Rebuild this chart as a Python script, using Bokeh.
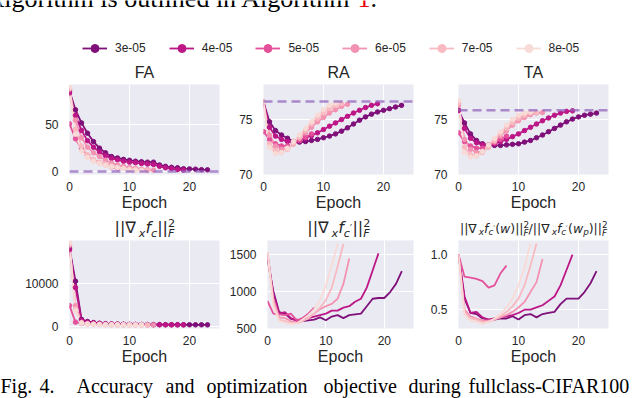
from bokeh.plotting import figure
from bokeh.models import Range1d, FixedTicker, Span, Label, Legend, LegendItem, PrintfTickFormatter, ColumnDataSource
from bokeh.layouts import column, row
from bokeh.embed import file_html
from bokeh.resources import INLINE
from bokeh.core.properties import value

# ---------------- data ----------------
learning_rates = ["3e-05", "4e-05", "5e-05", "6e-05", "7e-05", "8e-05"]
x_ticks = [0, 10, 20]

fa = [
    [86, 66, 52, 41, 32, 25, 20, 16, 14.5, 13, 12, 11, 10.5, 10, 10, 7, 5.5, 4.5, 4, 3, 2.8, 2.5, 2, 1.8],
    [84, 60, 44, 33, 26, 21, 17, 14, 12.5, 11, 10, 9.5, 8.5, 8, 7.5, 5.5, 4, 3, 2, 1.5],
    [51, 35, 24, 17, 12, 9, 7, 5, 3.5],
    [88, 55, 36, 26, 20, 16, 12, 9, 7, 5.5, 4.5, 3.5, 2.5, 2, 1.5],
    [89, 45, 27, 18, 13, 10, 8, 6, 4.5, 3.5, 2.5, 2, 1.5, 1],
    [90, 40, 22, 15, 11, 8.5, 6.5, 5, 4, 3, 2, 1.5, 1],
]
ra = [
    [76.6, 74.8, 74.0, 73.6, 73.3, 73.0, 72.95, 73.0, 73.1, 73.2, 73.35, 73.5, 73.7, 73.95, 74.25, 74.6, 74.95, 75.25, 75.5, 75.7, 75.85, 76.0, 76.15, 76.3],
    [76.6, 74.3, 73.5, 73.2, 73.0, 72.95, 73.1, 73.3, 73.55, 73.8, 74.1, 74.4, 74.7, 75.0, 75.3, 75.6, 75.85, 76.1, 76.3, 76.45],
    [73.9, 73.2, 72.8, 72.6, 72.6, 72.8, 73.1, 73.4, 73.7],
    [76.6, 73.6, 72.6, 72.3, 72.4, 72.8, 73.3, 73.8, 74.3, 74.8, 75.2, 75.6, 75.9, 76.2, 76.4],
    [76.6, 72.8, 72.2, 72.0, 72.3, 72.8, 73.4, 74.0, 74.6, 75.1, 75.6, 76.0, 76.3, 76.45],
    [76.6, 72.5, 71.9, 72.0, 72.4, 73.0, 73.6, 74.2, 74.8, 75.4, 75.9, 76.3, 76.5],
]
ta = [
    [75.85, 74.7, 73.7, 73.1, 72.8, 72.7, 72.65, 72.65, 72.7, 72.75, 72.8, 72.95, 73.1, 73.35, 73.6, 73.9, 74.2, 74.5, 74.8, 75.05, 75.25, 75.4, 75.5, 75.6],
    [75.85, 74.2, 73.3, 72.9, 72.7, 72.7, 72.8, 73.0, 73.2, 73.45, 73.7, 74.0, 74.3, 74.6, 74.9, 75.15, 75.4, 75.6, 75.75, 75.8],
    [73.8, 73.0, 72.6, 72.4, 72.4, 72.6, 72.9, 73.2, 73.5],
    [76.3, 73.2, 72.3, 72.0, 72.1, 72.5, 73.0, 73.5, 74.0, 74.5, 74.9, 75.2, 75.45, 75.6, 75.65],
    [76.5, 72.5, 71.8, 71.7, 72.0, 72.5, 73.1, 73.7, 74.2, 74.7, 75.1, 75.4, 75.6, 75.65],
    [76.75, 72.0, 71.6, 71.7, 72.1, 72.7, 73.3, 73.9, 74.5, 75.0, 75.4, 75.6, 75.7],
]
grad_c = [
    [18200, 10500, 1600, 1100, 850, 700, 600, 540, 500, 460, 430, 410, 400, 390, 380, 370, 360, 350, 350, 340, 340, 330, 330, 320],
    [17800, 9000, 1400, 950, 750, 640, 560, 500, 460, 430, 410, 390, 380, 370, 360, 350, 345, 340, 335, 330],
    [4800, 950, 650, 550, 480, 440, 410, 390, 370],
    [18800, 4800, 900, 620, 500, 440, 400, 370, 350, 340, 330, 320, 315, 310, 305],
    [19100, 4000, 800, 560, 460, 400, 370, 350, 330, 320, 310, 300, 295, 290],
    [19400, 3600, 700, 500, 420, 380, 350, 330, 315, 300, 290, 285, 280],
]
grad_cp = [
    [1420, 1000, 720, 700, 630, 620, 600, 610, 620, 650, 610, 660, 680, 640, 680, 690, 700, 800, 900, 910, 910, 990, 1100, 1270],
    [1500, 960, 700, 720, 640, 600, 610, 640, 660, 680, 700, 740, 740, 780, 800, 860, 900, 1050, 1280, 1510],
    [870, 700, 690, 680, 700, 610, 640, 700, 780],
    [1520, 900, 650, 640, 600, 580, 600, 640, 700, 760, 800, 830, 900, 1100, 1440],
    [1520, 850, 620, 600, 580, 570, 600, 640, 700, 780, 880, 1050, 1330, 1640],
    [1530, 800, 600, 580, 560, 570, 620, 680, 760, 880, 1080, 1350, 1640],
]
grad_ratio = [
    [1.0, 0.60, 0.47, 0.46, 0.42, 0.41, 0.41, 0.42, 0.42, 0.44, 0.41, 0.45, 0.46, 0.43, 0.46, 0.47, 0.48, 0.55, 0.60, 0.60, 0.60, 0.66, 0.74, 0.85],
    [1.0, 0.62, 0.47, 0.48, 0.43, 0.41, 0.42, 0.43, 0.44, 0.45, 0.47, 0.50, 0.50, 0.52, 0.54, 0.58, 0.62, 0.72, 0.86, 1.0],
    [1.0, 0.80, 0.79, 0.78, 0.76, 0.70, 0.72, 0.83, 0.90],
    [1.0, 0.50, 0.44, 0.42, 0.40, 0.40, 0.41, 0.43, 0.45, 0.48, 0.52, 0.57, 0.66, 0.75, 0.96],
    [1.0, 0.48, 0.42, 0.41, 0.39, 0.39, 0.41, 0.44, 0.48, 0.53, 0.60, 0.72, 0.90, 1.1],
    [1.0, 0.45, 0.40, 0.39, 0.37, 0.39, 0.42, 0.46, 0.52, 0.60, 0.72, 0.88, 1.1],
]
baseline_fa = 0
baseline_ra = 76.65
baseline_ta = 75.85

top_titles = ["FA", "RA", "TA"]
body_text = "Algorithm is outlined in Algorithm"
body_ref = "1"
caption_words = ["Fig.", "4.", "Accuracy", "and", "optimization", "objective", "during", "fullclass-CIFAR100"]

# ---------------- style / layout ----------------
colors = ["#7f1079", "#bd1686", "#e5509b", "#f392b1", "#f8b9c0", "#f8dbd6"]
BG = "#EAEAF2"
INK = "#262626"
SANS = "Liberation Sans"
SERIF = "Liberation Serif"
MATH = "DejaVu Sans"
panel_centers = [144, 338, 533]
caption_x = [0, 39, 76, 165, 206, 323, 408, 468]

W = {'|': 0.337, '∇': 0.838, 'x': 0.592, 'f': 0.352, 'c': 0.550, '2': 0.636,
     'F': 0.575, '(': 0.390, ')': 0.390, 'w': 0.818, 'p': 0.635, '/': 0.337, '′': 0.26}


def strip(height):
    s = figure(width=640, height=height, output_backend="svg", toolbar_location=None,
               x_range=Range1d(0, 1), y_range=Range1d(0, 1), x_axis_type=None, y_axis_type=None,
               min_border=0)
    s.outline_line_color = None
    s.background_fill_color = "white"
    s.border_fill_color = "white"
    s.grid.visible = False
    return s


def put(s, strip_bottom, x, baseline, text, font, size, style="normal", color=INK, align="left"):
    middle = baseline - 0.35 * size
    s.add_layout(Label(x=x, y=strip_bottom - middle, x_units="screen", y_units="screen", text=text,
                       text_font=font, text_font_size=f"{size:.1f}px", text_font_style=style,
                       text_color=color, text_align=align, text_baseline="middle"))


def make_panel(series, yr, yticks, width, height, bl, br, bb, baseline=None, fmt=None, markers=True):
    p = figure(width=width, height=height, output_backend="svg", toolbar_location=None,
               x_range=Range1d(0, 25), y_range=Range1d(*yr),
               min_border_left=bl, min_border_right=br, min_border_top=0, min_border_bottom=bb)
    p.background_fill_color = BG
    p.border_fill_color = "white"
    p.outline_line_color = None
    p.xaxis.ticker = FixedTicker(ticks=x_ticks)
    p.yaxis.ticker = FixedTicker(ticks=yticks)
    if fmt:
        p.yaxis.formatter = PrintfTickFormatter(format=fmt)
    p.grid.grid_line_color = "white"
    p.grid.grid_line_width = 1
    for ax in p.axis:
        ax.axis_line_color = None
        ax.major_tick_line_color = None
        ax.minor_tick_line_color = None
        ax.major_label_text_font = SANS
        ax.major_label_text_font_size = "12px"
        ax.major_label_text_color = INK
    p.xaxis.major_label_standoff = 1
    p.yaxis.major_label_standoff = 5
    p.xaxis.axis_label = "Epoch"
    p.xaxis.axis_label_text_font = SANS
    p.xaxis.axis_label_text_font_size = "16px"
    p.xaxis.axis_label_text_font_style = "normal"
    p.xaxis.axis_label_text_color = INK
    p.xaxis.axis_label_standoff = 0
    for vals, c in zip(series, colors):
        p.line(list(range(len(vals))), vals, line_color=c, line_width=1.8)
    if markers:
        mx, my, mc = [], [], []
        for vals, c in zip(series, colors):
            mx += list(range(len(vals)))
            my += list(vals)
            mc += [c] * len(vals)
        pts = ColumnDataSource(dict(x=mx, y=my, c=mc))
        p.scatter("x", "y", source=pts, size=4.5, fill_color="c", line_color="c")
    if baseline is not None:
        p.add_layout(Span(location=baseline, dimension="width", line_color="#9467bd",
                          line_alpha=0.75, line_width=2.5, line_dash="9 5"))
    return p


def math_title(s, strip_bottom, pieces, cx, baseline, base):
    total = 0.0
    for t, sz, dy, it, adv in pieces:
        if adv:
            total += sum(W[ch] for ch in t) * sz * base
    x = cx - total / 2
    for t, sz, dy, it, adv in pieces:
        put(s, strip_bottom, x, baseline - dy * base, t, MATH, sz * base,
            "italic" if it else "normal")
        if adv:
            x += sum(W[ch] for ch in t) * sz * base


SUB, SUP = -0.22, 0.42
norm_sq = [("2", 0.7, SUP, False, False), ("F", 0.7, -0.25, True, True)]
head = [("||∇", 1, 0, False, True), ("x", 0.7, SUB, True, True), ("f", 1, 0, True, True),
        ("c", 0.7, SUB, True, True)]
prime = [("′", 0.6, 0.12, False, True)]
title_c = head + [("||", 1, 0, False, True)] + norm_sq
title_cp = head + prime + [("||", 1, 0, False, True)] + norm_sq
num = head + prime + [("(", 1, 0, False, True), ("w", 1, 0, True, True), (")", 1, 0, False, True),
                      ("||", 1, 0, False, True)] + norm_sq
den = head + prime + [("(", 1, 0, False, True), ("w", 1, 0, True, True), ("p", 0.7, SUB, True, True),
                      (")", 1, 0, False, True), ("||", 1, 0, False, True)] + norm_sq
title_ratio = num + [("/", 1, 0, False, True)] + den

lg = strip(60)
put(lg, 60, -15, 7, body_text, SERIF, 26, color="black")
put(lg, 60, 357, 7, body_ref, SERIF, 26, color="#e8000b")
put(lg, 60, 370, 7, ".", SERIF, 26, color="black")
items = []
for lr, c in zip(learning_rates, colors):
    r1 = lg.line(x=[-5, -4], y=[-5, -5], line_color=c, line_width=1.8)
    r2 = lg.scatter(x=[-5], y=[-5], size=4.5, fill_color=c, line_color=c)
    items.append(LegendItem(label=value(lr), renderers=[r1, r2]))
legend = Legend(items=items, orientation="horizontal", location=(82, 2), padding=0, margin=0,
                spacing=23, glyph_width=25, glyph_height=20, label_standoff=8,
                label_text_font=SANS, label_text_font_size="12px", label_text_color=INK,
                background_fill_alpha=0, border_line_color=None)
lg.add_layout(legend)

t1 = strip(24)
for name, cx in zip(top_titles, panel_centers):
    put(t1, 84, cx, 78, name, SANS, 16, align="center")

f1 = make_panel(fa, (-3.2, 93.1), [0, 50], 226, 130, 69, 7, 40, baseline_fa)
f2 = make_panel(ra, (70, 78.2), [70, 75], 200, 130, 37, 13, 40, baseline_ra)
f3 = make_panel(ta, (70, 78.2), [70, 75], 214, 130, 32, 32, 40, baseline_ta)

t2 = strip(26)
math_title(t2, 240, title_c, panel_centers[0], 233, 16)
math_title(t2, 240, title_cp, panel_centers[1], 233, 16)
math_title(t2, 240, title_ratio, panel_centers[2], 232, 12.5)

f4 = make_panel(grad_c, (-530, 19975), [0, 10000], 226, 127, 69, 7, 38)
f5 = make_panel(grad_cp, (500, 1683), [500, 1000, 1500], 200, 127, 37, 13, 38, markers=False)
f6 = make_panel(grad_ratio, (0.329, 1.128), [0.5, 1.0], 214, 127, 32, 32, 38, fmt="%.1f",
                markers=False)

cap = strip(31)
for w, x in zip(caption_words, caption_x):
    put(cap, 31, x, 25, w, SERIF, 20, color="black")

layout = column(lg, t1, row(f1, f2, f3), t2, row(f4, f5, f6), cap)
open("out.html", "w").write(file_html(layout, INLINE))
